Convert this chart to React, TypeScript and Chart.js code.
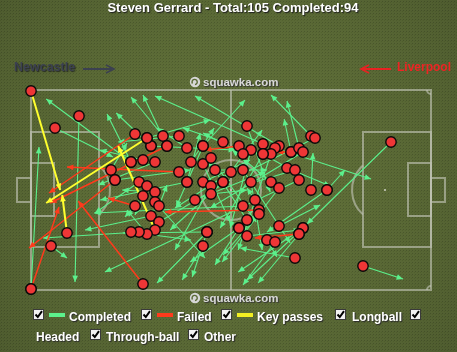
import React, { useEffect, useRef } from 'react';
import { Chart, registerables } from 'chart.js';

Chart.register(...registerables);

// Pitch coordinates: x 0..100 (left goal line -> right goal line), y 0..100 (top touchline -> bottom)
const passStartX = [0, 12, 6, 0, 0, 9, 5, 28, 26, 29, 33, 37, 30, 34, 34, 39, 43, 48, 25, 25, 28, 31, 40, 43, 45, 20, 37, 46, 21, 27, 29, 39, 43, 48, 45, 45, 31, 28, 31, 32, 26, 41, 30, 32, 31, 29, 27, 25, 44, 44, 44, 43, 54, 52, 55, 58, 62, 61, 65, 65, 67, 68, 60, 58, 53, 70, 71, 90, 50, 53, 64, 66, 55, 60, 62, 67, 70, 74, 56, 53, 57, 57, 54, 52, 54, 59, 61, 62, 68, 68, 67, 67, 66, 83, 43, 30, 21, 58, 52, 39, 48, 29, 74];
const passStartY = [0.5, 13, 19, 99.5, 99.5, 71.5, 78, 97, 22, 24, 23, 23, 28, 28, 28, 29, 28, 26, 36, 36, 35, 36, 36, 37, 34, 40, 41, 40, 45, 46, 48, 46, 46, 46, 48, 52, 51, 53, 56, 58, 58, 55, 63, 66, 70, 72, 71, 71, 71, 71, 71, 78, 18, 28, 30, 27, 28, 29, 31, 31, 29, 31, 32, 32, 32, 23, 24, 26, 41, 40, 39, 40, 46, 46, 49, 45, 50, 50, 55, 58, 60, 62, 65, 69, 73, 75, 76, 68, 69, 69, 72, 72, 84, 88, 28, 28, 45, 32, 69, 46, 46, 24, 50];
const passEndX = [7.3, 11, 20.5, 2, 7, 7.8, 9, 11.8, 4.5, 3.8, 25, 21.8, 21.3, 28, 4.8, 31.5, 36.3, 38, 3.8, 19, 17.3, 16.8, 45.8, 49.8, 56.3, 24, 9, 59, -0.5, 16, 26, 42.3, 54.8, 57.8, 36, 54, 22.8, 23.5, 43.5, 34, 19.3, 58.5, 13.5, 49.8, 21.8, 24, 3, 40, 23, 31.5, 40.3, 37.8, 59.8, 43.5, 49.8, 31, 41, 85, 63.3, 61.5, 64, 44.8, 51.8, 47.3, 43, 60, 52.3, 69, 36, 64.8, 74.8, 53.5, 57.8, 50.3, 47.8, 18.5, 70.5, 59, 54, 15.8, 33.5, 48, 44.3, 39.8, 67.3, 61.5, 53, 72.3, 51.8, 54, 56.8, 56, 52.3, 93, 53.5, 51, 39.8, 67.3, 46, 17.3, 34.8, 44.8, 78.5];
const passEndY = [50, 96, 33.5, 28.5, 58.5, 52.5, 84, 55.5, 51.5, 56.5, 3.5, 26, 11.5, 2.5, 56.5, 19, 58.5, 19, 4.5, 12, 30, 47.5, 19, 66, 66, 26.5, 38.5, 40, 79, 61.5, 62.5, 21.5, 35, 20, 80, 50, 50, 63.5, 84, 47.5, 54, 41, 70, 45, 28, 60, 74, 75, 71.5, 96.5, 93.5, 95, 51, 30, 69, 3, 3, 44.5, 14.5, 31, 5.5, 59, 80, 69, 21.5, 2.5, 42.5, 67, 59, 76.5, 48, 47.5, 80, 30, 86, 91, 31.5, 71, 49, 61.5, 61, 82.5, 35, 86, 70, 83.5, 97.5, 57.5, 91, 95, 96.5, 74, 79, 94.5, 5, 30, 40, 42.5, 87.5, 55, 70, 15, 40];
// c = completed, f = failed, k = key pass
const passOutcome = ['k', 'c', 'c', 'c', 'f', 'k', 'c', 'f', 'f', 'k', 'c', 'c', 'c', 'c', 'f', 'c', 'c', 'c', 'c', 'c', 'c', 'c', 'c', 'c', 'c', 'c', 'f', 'c', 'f', 'c', 'c', 'c', 'c', 'c', 'c', 'c', 'c', 'c', 'c', 'c', 'f', 'c', 'c', 'c', 'k', 'c', 'c', 'c', 'c', 'c', 'c', 'c', 'c', 'f', 'c', 'c', 'c', 'c', 'c', 'f', 'c', 'c', 'c', 'c', 'c', 'c', 'c', 'c', 'c', 'c', 'c', 'c', 'c', 'c', 'c', 'c', 'c', 'c', 'c', 'c', 'f', 'c', 'c', 'c', 'c', 'c', 'c', 'c', 'c', 'c', 'c', 'f', 'c', 'c', 'c', 'c', 'c', 'c', 'c', 'c', 'c', 'c', 'c'];

const chartTitle = 'Steven Gerrard - Total:105 Completed:94';
const homeTeam = 'Newcastle';
const awayTeam = 'Liverpool';
const watermark = 'squawka.com';
const legendRow1 = ['Completed', 'Failed', 'Key passes', 'Longball'];
const legendRow2 = ['Headed', 'Through-ball', 'Other'];

const W = 457;
const H = 352;
const COLORS: Record<string, string> = { c: '#5cf08c', f: '#ff3a1c', k: '#ffff2e' };

const pitchPlugin = {
  id: 'pitch',
  beforeDraw(chart: any) {
    const ctx: CanvasRenderingContext2D = chart.ctx;
    ctx.save();
    const pc = document.createElement('canvas');
    pc.width = 3; pc.height = 3;
    const p = pc.getContext('2d')!;
    p.fillStyle = '#5d6d38'; p.fillRect(0, 0, 3, 3);
    p.fillStyle = '#4b592d'; p.fillRect(1, 1, 1, 1);
    p.fillStyle = '#556530'; p.fillRect(0, 2, 1, 1);
    const pat = ctx.createPattern(pc, 'repeat')!;
    ctx.fillStyle = pat;
    ctx.fillRect(0, 0, W, H);
    const g = ctx.createRadialGradient(W / 2, H / 2, 60, W / 2, H / 2, 320);
    g.addColorStop(0, 'rgba(125,140,70,0.10)');
    g.addColorStop(1, 'rgba(0,0,0,0.2)');
    ctx.fillStyle = g;
    ctx.fillRect(0, 0, W, H);

    const xs = chart.scales.x, ys = chart.scales.y;
    const X = (v: number) => Math.round(xs.getPixelForValue(v));
    const Y = (v: number) => Math.round(ys.getPixelForValue(v));
    ctx.strokeStyle = 'rgba(190,193,178,0.65)';
    ctx.lineWidth = 2;
    const rect = (x0: number, y0: number, x1: number, y1: number) => {
      ctx.strokeRect(X(x0), Y(y0), X(x1) - X(x0), Y(y1) - Y(y0));
    };
    rect(0, 0, 100, 100);
    ctx.beginPath(); ctx.moveTo(X(50), Y(0)); ctx.lineTo(X(50), Y(100)); ctx.stroke();
    rect(0, 21, 17, 78.5); rect(83, 21, 100, 78.5);
    rect(0, 36.5, 5.75, 63); rect(94.25, 36.5, 100, 63);
    rect(-3.5, 44, 0, 56); rect(100, 44, 103.5, 56);
    const cr = X(57.5) - X(50);
    ctx.beginPath(); ctx.arc(X(50), Y(50), cr, 0, Math.PI * 2); ctx.stroke();
    const ar = X(8.25) - X(0);
    const dx = X(17) - X(11.5);
    const ang = Math.acos(dx / ar);
    ctx.beginPath(); ctx.arc(X(11.5), Y(50), ar, -ang, ang); ctx.stroke();
    ctx.beginPath(); ctx.arc(X(88.5), Y(50), ar, Math.PI - ang, Math.PI + ang); ctx.stroke();
    ctx.fillStyle = 'rgba(200,203,188,0.8)';
    [[11.5, 50], [88.5, 50], [50, 50]].forEach(([a, b]) => {
      ctx.fillRect(X(a) - 1, Y(b) - 1, 2, 2);
    });
    const k = 4;
    ctx.beginPath(); ctx.arc(X(0), Y(0), k, 0, Math.PI / 2); ctx.stroke();
    ctx.beginPath(); ctx.arc(X(100), Y(0), k, Math.PI / 2, Math.PI); ctx.stroke();
    ctx.beginPath(); ctx.arc(X(0), Y(100), k, -Math.PI / 2, 0); ctx.stroke();
    ctx.beginPath(); ctx.arc(X(100), Y(100), k, Math.PI, Math.PI * 1.5); ctx.stroke();
    ctx.restore();
  },
  beforeDatasetsDraw(chart: any) {
    const ctx: CanvasRenderingContext2D = chart.ctx;
    const xs = chart.scales.x, ys = chart.scales.y;
    ctx.save();
    ['c', 'f', 'k'].forEach((t) => {
      passOutcome.forEach((o, i) => {
        if (o !== t) return;
        const x1 = xs.getPixelForValue(passStartX[i]);
        const y1 = ys.getPixelForValue(passStartY[i]);
        const x2 = xs.getPixelForValue(passEndX[i]);
        const y2 = ys.getPixelForValue(passEndY[i]);
        const col = COLORS[t];
        ctx.strokeStyle = col;
        ctx.fillStyle = col;
        ctx.lineWidth = t === 'c' ? 1.1 : t === 'f' ? 1.5 : 2;
        ctx.beginPath(); ctx.moveTo(x1, y1); ctx.lineTo(x2, y2); ctx.stroke();
        const a = Math.atan2(y2 - y1, x2 - x1);
        const hl = 7, hw = 0.42;
        ctx.beginPath();
        ctx.moveTo(x2, y2);
        ctx.lineTo(x2 - hl * Math.cos(a - hw), y2 - hl * Math.sin(a - hw));
        ctx.lineTo(x2 - hl * Math.cos(a + hw), y2 - hl * Math.sin(a + hw));
        ctx.closePath();
        ctx.fill();
      });
    });
    ctx.restore();
  },
};

function CheckBox({ left, top }: { left: number; top: number }) {
  return (
    <div style={{ position: 'absolute', left, top, width: 11, height: 11, boxSizing: 'border-box', background: '#f2f2f2', border: '1px solid #3a3a3a' }}>
      <svg width="9" height="9" style={{ position: 'absolute', left: 0, top: 0 }}>
        <path d="M1.5 4.5 L3.8 7 L8 1.2" stroke="#000" strokeWidth="2" fill="none" />
      </svg>
    </div>
  );
}

function Swatch({ left, color }: { left: number; color: string }) {
  return <div style={{ position: 'absolute', left, top: 313, width: 16, height: 4, background: color }} />;
}

function Label({ left, top, text }: { left: number; top: number; text: string }) {
  return (
    <div style={{ position: 'absolute', left, top, whiteSpace: 'nowrap', font: 'bold 12px "Liberation Sans", Arial, sans-serif', lineHeight: '14px', color: '#fff', textShadow: '1px 1px 1px #2a2a2a' }}>{text}</div>
  );
}

function Watermark({ top }: { top: number }) {
  return (
    <div style={{ position: 'absolute', left: 189, top, whiteSpace: 'nowrap', display: 'flex', alignItems: 'center' }}>
      <svg width="12" height="12" style={{ marginRight: 2 }}>
        <circle cx="6" cy="6" r="5.2" fill="#d6d6d6" />
        <path d="M3.5 7.5 A2.6 2.6 0 1 1 6 8.6" stroke="#5b6b37" strokeWidth="1.4" fill="none" />
      </svg>
      <span style={{ font: 'bold 11.5px "Liberation Sans", Arial, sans-serif', color: '#d9d9d9', textShadow: '1px 1px 1px #333' }}>{watermark}</span>
    </div>
  );
}

export default function App() {
  const ref = useRef<HTMLCanvasElement>(null);
  useEffect(() => {
    document.body.style.margin = '0';
    const canvas = ref.current!;
    const chart = new Chart(canvas, {
      type: 'scatter',
      data: {
        datasets: [
          {
            data: passStartX.map((x, i) => ({ x, y: passStartY[i] })),
            pointRadius: 5.2,
            pointHoverRadius: 5.2,
            backgroundColor: '#ee3636',
            borderColor: '#0a0a0a',
            borderWidth: 1.4,
            clip: false as any,
          },
        ],
      },
      options: {
        animation: false,
        responsive: false,
        devicePixelRatio: 1,
        events: [],
        layout: { padding: { left: 31, right: 26, top: 90, bottom: 62 } },
        scales: {
          x: { type: 'linear', min: 0, max: 100, display: false },
          y: { type: 'linear', min: 0, max: 100, reverse: true, display: false },
        },
        plugins: { legend: { display: false }, tooltip: { enabled: false }, title: { display: false } },
      },
      plugins: [pitchPlugin],
    });
    return () => chart.destroy();
  }, []);

  return (
    <div style={{ position: 'relative', width: W, height: H, overflow: 'hidden' }}>
      <canvas ref={ref} width={W} height={H} style={{ display: 'block' }} />
      <div style={{ position: 'absolute', left: 233, top: 0, transform: 'translateX(-50%)', whiteSpace: 'nowrap', font: 'bold 13px "Liberation Sans", Arial, sans-serif', lineHeight: '16px', color: '#fff', textShadow: '1px 1px 1px #1e1e1e' }}>{chartTitle}</div>
      <div style={{ position: 'absolute', left: 14, top: 60, whiteSpace: 'nowrap', font: 'bold 12.5px "Liberation Sans", Arial, sans-serif', lineHeight: '14px', color: '#3c4150', textShadow: '1px 1px 1px #262a22' }}>{homeTeam}</div>
      <svg width="36" height="12" style={{ position: 'absolute', left: 82, top: 63 }}>
        <line x1="1" y1="6" x2="30" y2="6" stroke="#3c4150" strokeWidth="2" />
        <path d="M24 2 L32 6 L24 10" stroke="#3c4150" strokeWidth="1.6" fill="none" />
      </svg>
      <svg width="36" height="12" style={{ position: 'absolute', left: 359, top: 63 }}>
        <line x1="4" y1="6" x2="32" y2="6" stroke="#e82222" strokeWidth="2" />
        <path d="M10 2 L2 6 L10 10" stroke="#e82222" strokeWidth="1.6" fill="none" />
      </svg>
      <div style={{ position: 'absolute', left: 397, top: 60, whiteSpace: 'nowrap', font: 'bold 12px "Liberation Sans", Arial, sans-serif', lineHeight: '14px', color: '#ee2424' }}>{awayTeam}</div>
      <Watermark top={76} />
      <Watermark top={292} />
      <CheckBox left={33} top={309} />
      <Swatch left={49} color={COLORS.c} />
      <Label left={69} top={310} text={legendRow1[0]} />
      <CheckBox left={141} top={309} />
      <Swatch left={157} color={COLORS.f} />
      <Label left={177} top={310} text={legendRow1[1]} />
      <CheckBox left={221} top={309} />
      <Swatch left={237} color="#f2ee22" />
      <Label left={257} top={310} text={legendRow1[2]} />
      <CheckBox left={335} top={309} />
      <Label left={352} top={310} text={legendRow1[3]} />
      <CheckBox left={410} top={309} />
      <Label left={36} top={330} text={legendRow2[0]} />
      <CheckBox left={90} top={329} />
      <Label left={106} top={330} text={legendRow2[1]} />
      <CheckBox left={188} top={329} />
      <Label left={204} top={330} text={legendRow2[2]} />
    </div>
  );
}
